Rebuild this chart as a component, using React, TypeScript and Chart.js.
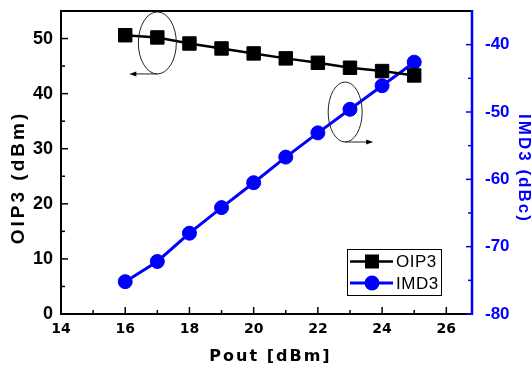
import React, { useEffect, useRef } from 'react';
import { Chart, registerables } from 'chart.js';

Chart.register(...registerables);

// ---- data ----
const pout = [16, 17, 18, 19, 20, 21, 22, 23, 24, 25];
const oip3 = [50.6, 50.2, 49.1, 48.2, 47.3, 46.4, 45.6, 44.7, 44.1, 43.3];
const imd3 = [-75.2, -72.2, -68.0, -64.2, -60.5, -56.7, -53.1, -49.6, -46.1, -42.6];
const seriesNames = ['OIP3', 'IMD3'];

const xTicks = [14, 16, 18, 20, 22, 24, 26];
const xMinor = [15, 17, 19, 21, 23, 25];
const leftTicks = [0, 10, 20, 30, 40, 50];
const leftMinor = [5, 15, 25, 35, 45];
const rightTicks = [-80, -70, -60, -50, -40];
const rightMinor = [-75, -65, -55, -45];

const xTitle = 'Pout [dBm]';
const leftTitle = 'OIP3 (dBm)';
const rightTitle = 'IMD3 (dBc)';

// annotation ellipses (data space): [x, y, axis, arrow direction]
const ellipseX = [17, 22.85];
const ellipseY = [49.2, -50];
const ellipseAxis = ['y', 'y2'];
const ellipseArrow = [-1, 1];

const BLUE = '#0000ff';
const FONT = 'Liberation Sans, Arial, Helvetica, sans-serif';

const zeroPad = (s: any) => {
  s.paddingTop = 0;
  s.paddingBottom = 0;
  s.paddingLeft = 0;
  s.paddingRight = 0;
};

const decor = {
  id: 'decor',
  beforeDatasetsDraw(chart: any) {
    const { ctx, chartArea: a, scales } = chart;
    const sx = scales.x, sy = scales.y, sy2 = scales.y2;
    const line = (x1: number, y1: number, x2: number, y2: number) => {
      ctx.beginPath();
      ctx.moveTo(x1, y1);
      ctx.lineTo(x2, y2);
      ctx.stroke();
    };
    ctx.save();
    ctx.strokeStyle = '#000';
    ctx.lineWidth = 2;
    line(a.left - 1, a.top, a.right, a.top);
    line(a.left - 1, a.bottom, a.right, a.bottom);
    line(a.left, a.top, a.left, a.bottom + 1);
    ctx.lineWidth = 1.5;
    xTicks.forEach((v) => {
      const p = sx.getPixelForValue(v);
      line(p, a.bottom, p, a.bottom - 7);
    });
    xMinor.forEach((v) => {
      const p = sx.getPixelForValue(v);
      line(p, a.bottom, p, a.bottom - 4);
    });
    leftTicks.forEach((v) => {
      const p = sy.getPixelForValue(v);
      line(a.left, p, a.left + 7, p);
    });
    leftMinor.forEach((v) => {
      const p = sy.getPixelForValue(v);
      line(a.left, p, a.left + 4, p);
    });
    ctx.strokeStyle = BLUE;
    rightTicks.forEach((v) => {
      const p = sy2.getPixelForValue(v);
      line(a.right, p, a.right - 6, p);
    });
    rightMinor.forEach((v) => {
      const p = sy2.getPixelForValue(v);
      line(a.right, p, a.right - 4, p);
    });
    ctx.lineWidth = 2.5;
    line(a.right, a.top - 1, a.right, a.bottom + 1);
    ctx.restore();
  },
  afterDatasetsDraw(chart: any) {
    const { ctx, chartArea: a, scales } = chart;
    ctx.save();
    // ellipses with arrows
    for (let i = 0; i < ellipseX.length; i++) {
      const cx = scales.x.getPixelForValue(ellipseX[i]);
      const cy = scales[ellipseAxis[i]].getPixelForValue(ellipseY[i]);
      const rx = i === 0 ? 19 : 17;
      const ry = i === 0 ? 31 : 30;
      ctx.strokeStyle = '#222';
      ctx.lineWidth = 1;
      ctx.beginPath();
      ctx.ellipse(cx, cy, rx, ry, 0, 0, Math.PI * 2);
      ctx.stroke();
      const dir = ellipseArrow[i];
      const by = cy + ry;
      const ex = cx + dir * 28;
      ctx.beginPath();
      ctx.moveTo(cx, by);
      ctx.lineTo(ex - dir * 5, by);
      ctx.stroke();
      ctx.fillStyle = '#000';
      ctx.beginPath();
      ctx.moveTo(ex, by);
      ctx.lineTo(ex - dir * 7, by - 2.5);
      ctx.lineTo(ex - dir * 7, by + 2.5);
      ctx.closePath();
      ctx.fill();
    }
    // legend
    const bw = 94, bh = 46;
    const bx = a.right - 31 - bw;
    const byy = a.bottom - 19 - bh;
    ctx.fillStyle = '#fff';
    ctx.fillRect(bx, byy, bw, bh);
    ctx.strokeStyle = '#000';
    ctx.lineWidth = 1;
    ctx.strokeRect(bx + 0.5, byy + 0.5, bw, bh);
    const rows = [byy + 12.5, byy + 34];
    chart.data.datasets.forEach((ds: any, i: number) => {
      const ry = rows[i];
      ctx.strokeStyle = ds.borderColor;
      ctx.lineWidth = ds.borderWidth;
      ctx.beginPath();
      ctx.moveTo(bx + 3, ry);
      ctx.lineTo(bx + 46, ry);
      ctx.stroke();
      ctx.fillStyle = ds.pointBackgroundColor;
      const mx = bx + 25;
      if (ds.pointStyle === 'rect') {
        ctx.fillRect(mx - 7, ry - 7, 14, 14);
      } else {
        ctx.beginPath();
        ctx.arc(mx, ry, 7.5, 0, Math.PI * 2);
        ctx.fill();
      }
      ctx.fillStyle = '#000';
      ctx.font = `17px ${FONT}`;
      (ctx as any).letterSpacing = '0.5px';
      ctx.textAlign = 'left';
      ctx.textBaseline = 'middle';
      ctx.fillText(ds.label, bx + 49, ry + 1);
      (ctx as any).letterSpacing = '0px';
    });
    ctx.restore();
  },
  afterDraw(chart: any) {
    const { ctx, chartArea: a } = chart;
    ctx.save();
    ctx.textAlign = 'center';
    ctx.textBaseline = 'middle';
    // bottom title
    ctx.fillStyle = '#000';
    ctx.font = `bold 16px DejaVu Sans, ${FONT}`;
    (ctx as any).letterSpacing = '2px';
    ctx.fillText(xTitle, (a.left + a.right) / 2 + 4, 357);
    // left title
    ctx.font = `bold 19px ${FONT}`;
    (ctx as any).letterSpacing = '3px';
    ctx.translate(19, (a.top + a.bottom) / 2 + 15);
    ctx.rotate(-Math.PI / 2);
    ctx.fillText(leftTitle, 0, 0);
    ctx.restore();
    ctx.save();
    ctx.textAlign = 'center';
    ctx.textBaseline = 'middle';
    ctx.fillStyle = BLUE;
    ctx.font = `bold 17px ${FONT}`;
    (ctx as any).letterSpacing = '2px';
    ctx.translate(524, (a.top + a.bottom) / 2 + 6);
    ctx.rotate(Math.PI / 2);
    ctx.fillText(rightTitle, 0, 0);
    ctx.restore();
  },
};

export default function App() {
  const ref = useRef<HTMLCanvasElement | null>(null);

  useEffect(() => {
    if (!ref.current) return;
    const chart = new Chart(ref.current, {
      type: 'line',
      data: {
        datasets: [
          {
            label: seriesNames[0],
            data: pout.map((x, i) => ({ x, y: oip3[i] })),
            yAxisID: 'y',
            borderColor: '#000',
            backgroundColor: '#000',
            pointBackgroundColor: '#000',
            pointBorderColor: '#000',
            borderWidth: 2.5,
            pointStyle: 'rect',
            pointRadius: 9.5,
            pointBorderWidth: 1,
            tension: 0,
          },
          {
            label: seriesNames[1],
            data: pout.map((x, i) => ({ x, y: imd3[i] })),
            yAxisID: 'y2',
            borderColor: BLUE,
            backgroundColor: BLUE,
            pointBackgroundColor: BLUE,
            pointBorderColor: BLUE,
            borderWidth: 3,
            pointStyle: 'circle',
            pointRadius: 7,
            pointBorderWidth: 1,
            tension: 0,
          },
        ],
      } as any,
      options: {
        responsive: false,
        animation: false,
        events: [],
        layout: { padding: { top: 11, left: 0, right: 0, bottom: 0 } },
        plugins: { legend: { display: false }, tooltip: { enabled: false } },
        scales: {
          x: {
            type: 'linear',
            position: 'bottom',
            min: 14,
            max: 26.8,
            grid: { display: false, drawTicks: false },
            border: { display: false },
            afterBuildTicks: (s: any) => {
              s.ticks = xTicks.map((v) => ({ value: v }));
            },
            afterFit: (s: any) => {
              s.height = 53;
              zeroPad(s);
            },
            ticks: {
              color: '#000',
              padding: 7,
              maxRotation: 0,
              font: { family: `DejaVu Sans, ${FONT}`, size: 14, weight: 'bold' },
            },
          },
          y: {
            type: 'linear',
            position: 'left',
            min: 0,
            max: 55,
            grid: { display: false, drawTicks: false },
            border: { display: false },
            afterBuildTicks: (s: any) => {
              s.ticks = leftTicks.map((v) => ({ value: v }));
            },
            afterFit: (s: any) => {
              s.width = 61;
              zeroPad(s);
            },
            ticks: {
              color: '#000',
              padding: 8,
              font: { family: FONT, size: 18, weight: 'bold' },
            },
          },
          y2: {
            type: 'linear',
            position: 'right',
            min: -80,
            max: -35,
            grid: { display: false, drawTicks: false },
            border: { display: false },
            afterBuildTicks: (s: any) => {
              s.ticks = rightTicks.map((v) => ({ value: v }));
            },
            afterFit: (s: any) => {
              s.width = 59;
              zeroPad(s);
            },
            ticks: {
              color: BLUE,
              padding: 13,
              font: { family: FONT, size: 17, weight: 'bold' },
            },
          },
        },
      } as any,
      plugins: [decor],
    });
    return () => chart.destroy();
  }, []);

  return (
    <div style={{ position: 'fixed', left: 0, top: 0, width: 531, height: 367, background: '#fff' }}>
      <canvas ref={ref} width={531} height={367} style={{ display: 'block' }} />
    </div>
  );
}
